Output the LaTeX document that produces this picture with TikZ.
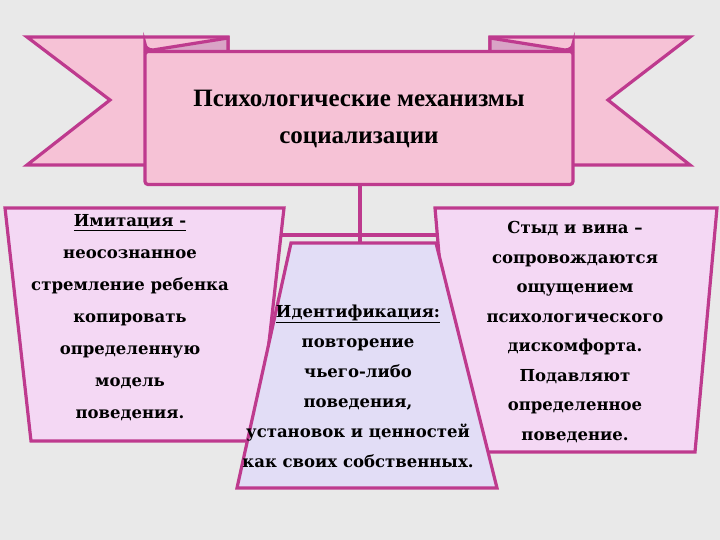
\documentclass[tikz,border=0pt]{standalone}
\usepackage{fontspec}
\setmainfont{Liberation Serif}
\newfontfamily\boxfont{DejaVu Serif}
\begin{document}
\begin{tikzpicture}[x=1pt,y=-1pt,
  ln/.style={draw=lnc,line width=3.2pt},
  bx/.style={ln,fill=pinkbox},
  txt/.style={font=\boxfont\bfseries\fontsize{16.5}{30}\selectfont,align=center,text=black}]
\definecolor{bg}{HTML}{E9E9E9}
\definecolor{lnc}{HTML}{BE3A8E}
\definecolor{pinkbox}{HTML}{F4D8F4}
\definecolor{midbox}{HTML}{E2DDF6}
\definecolor{banner}{HTML}{F6C2D6}
\definecolor{fold}{HTML}{D9A3C6}
\fill[bg] (0,0) rectangle (720,540);
\useasboundingbox (0,0) rectangle (720,540);
% connectors
\coordinate (t) at (360,185);
\coordinate (m) at (360,243);
\draw[ln] (t) -- (m);
\draw[ln] (145,210) -- (145,235) -- (574,235) -- (574,210);
% banner tails
\draw[ln,fill=banner] (27,37) -- (228,37) -- (228,165) -- (27,165) -- (110,100) -- cycle;
\draw[ln,fill=banner] (690,37) -- (490,37) -- (490,165) -- (690,165) -- (608,100) -- cycle;
\draw[ln,fill=fold] (145,52) -- (145,44) arc[start angle=180,end angle=90,x radius=8,y radius=6] -- (228,38) -- (228,52) -- cycle;
\draw[ln,fill=fold] (573,52) -- (573,44) arc[start angle=0,end angle=90,x radius=8,y radius=6] -- (490,38) -- (490,52) -- cycle;
\node[ln,fill=banner,minimum width=428,minimum height=133,inner sep=0,rounded corners=3pt] (title) at (359,118)
  {\bfseries\fontsize{25}{36}\selectfont\begin{tabular}{c}Психологические механизмы\\[1pt]социализации\end{tabular}};
% boxes
\draw[bx] (5,208) -- (284,208) -- (258,441) -- (31,441) -- cycle;
\draw[bx] (435,208) -- (717,208) -- (695,452) -- (456,452) -- cycle;
\draw[bx,fill=midbox] (291,243) -- (436,243) -- (497,488) -- (237,488) -- cycle;
\node[txt,font=\boxfont\bfseries\fontsize{16.5}{32}\selectfont] (a) at (130,318) {\underline{Имитация -}\\неосознанное\\стремление ребенка\\копировать\\определенную\\модель\\поведения.};
\node[txt] (b) at (358,386) {\underline{Идентификация:}\\повторение\\чьего-либо\\поведения,\\установок и ценностей\\как своих собственных.};
\node[txt,font=\boxfont\bfseries\fontsize{16.5}{29.5}\selectfont] (c) at (575,332) {Стыд и вина –\\сопровождаются\\ощущением\\психологического\\дискомфорта.\\Подавляют\\определенное\\поведение.};
\end{tikzpicture}
\end{document}
